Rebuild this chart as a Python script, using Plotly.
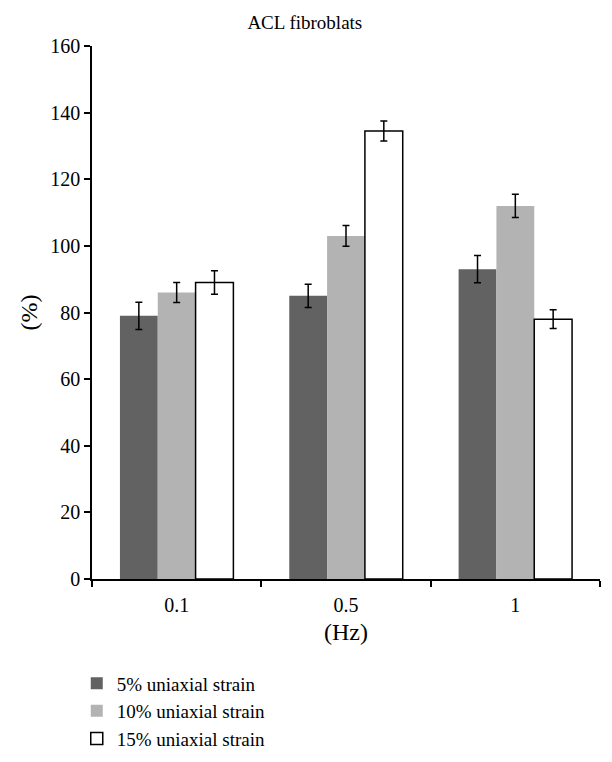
import plotly.graph_objects as go

# data
freqs = ["0.1", "0.5", "1"]
strain_5 = [79, 85, 93]
strain_5_err = [4.1, 3.5, 4.1]
strain_10 = [86, 103, 112]
strain_10_err = [3.0, 3.1, 3.5]
strain_15 = [89, 134.5, 78]
strain_15_err = [3.5, 3.0, 2.8]
series_names = ["5% uniaxial strain", "10% uniaxial strain", "15% uniaxial strain"]

font_family = "Liberation Serif, Times New Roman, serif"

fig = go.Figure()

# one bar trace per strain level
for name, vals, errs, fill, outline in [
    (series_names[0], strain_5, strain_5_err, "#626262", 0),
    (series_names[1], strain_10, strain_10_err, "#b3b3b3", 0),
    (series_names[2], strain_15, strain_15_err, "white", 1.5),
]:
    fig.add_trace(go.Bar(
        x=freqs,
        y=vals,
        name=name,
        marker=dict(color=fill, line=dict(color="black", width=outline)),
        error_y=dict(type="data", array=errs, visible=True,
                     color="black", thickness=1.5, width=3.5),
    ))

fig.update_layout(
    width=612,
    height=762,
    barmode="group",
    bargap=0.33,
    bargroupgap=0,
    plot_bgcolor="white",
    paper_bgcolor="white",
    font=dict(family=font_family, size=20, color="black"),
    title=dict(text="ACL fibroblats", x=0.485, xanchor="center",
               y=0.981, yanchor="middle", font=dict(size=19)),
    margin=dict(l=84, r=20, t=38, b=176),
    showlegend=True,
    legend=dict(x=-0.03, xanchor="left", y=-0.16, yanchor="top",
                bgcolor="rgba(0,0,0,0)", font=dict(size=19),
                itemwidth=30, tracegroupgap=0),
)

fig.update_xaxes(
    type="category", automargin=False,
    showline=True, linecolor="black", linewidth=1.5,
    ticks="outside", tickson="boundaries", ticklen=6, tickwidth=1.5,
    tickcolor="black", showgrid=False, ticklabelstandoff=7,
    title=dict(text="(Hz)", standoff=8),
)

fig.update_yaxes(
    range=[0, 160], dtick=20, automargin=False,
    showline=True, linecolor="black", linewidth=1.5,
    ticks="outside", ticklen=6, tickwidth=1.5, tickcolor="black",
    showgrid=False, zeroline=False,
    title=dict(text="(%)", standoff=6),
)

fig.write_html("out.html")
